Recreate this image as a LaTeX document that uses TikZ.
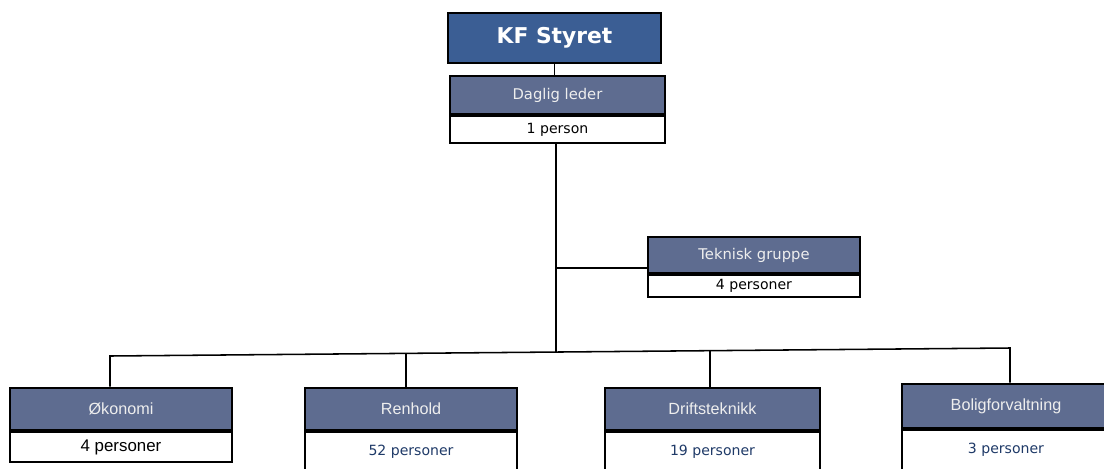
\documentclass[tikz,border=0pt]{standalone}
\usepackage{fontspec}
\setmainfont{Liberation Sans}
\newfontfamily\tahoma{DejaVu Sans}
\usetikzlibrary{positioning}
\definecolor{boardblue}{HTML}{3B5E94}
\definecolor{unitgrey}{HTML}{5E6C90}
\definecolor{countblue}{HTML}{1F3A68}
\definecolor{labelgrey}{HTML}{EEEEEE}

\begin{document}
\begin{tikzpicture}[x=0.025cm, y=-0.025cm,
    line width=1.1pt,
    board/.style={rectangle, draw, line width=2pt, fill=boardblue, text=white,
      font=\tahoma\bfseries\fontsize{15.5}{18}\selectfont, minimum height=1.25cm},
    unit/.style={rectangle, draw, line width=1.8pt, fill=unitgrey, text=labelgrey,
      inner sep=0pt, font=\fontsize{11.5}{13}\selectfont},
    leader/.style={unit, font=\tahoma\fontsize{10.5}{12}\selectfont},
    count/.style={rectangle, draw, line width=1pt, fill=white, inner sep=0pt,
      anchor=north, font=\fontsize{12}{14}\selectfont},
    tcount/.style={count, font=\tahoma\fontsize{10}{12}\selectfont},
    bcount/.style={tcount, text=countblue}
    ]
\useasboundingbox (0,0) rectangle (1104,468);
\node[board, minimum width=5.325cm] (KF) at (554.5,38) {KF Styret};
\node[leader, minimum width=5.375cm, minimum height=0.95cm] (DL) at (557.5,95) {Daglig leder};
\node[tcount, minimum width=5.375cm, minimum height=0.675cm] (DLn) at (DL.south) {1 person};
\node[leader, minimum width=5.3cm, minimum height=0.9cm] (TG) at (754,255) {Teknisk gruppe};
\node[tcount, minimum width=5.3cm, minimum height=0.55cm] (TGn) at (TG.south) {4 personer};
\node[unit, minimum width=5.55cm, minimum height=1.05cm] (OK) at (121,409) {Økonomi};
\node[count, minimum width=5.55cm, minimum height=0.75cm] (OKn) at (OK.south) {4 personer};
\node[unit, minimum width=5.3cm, minimum height=1.05cm] (RH) at (411,409) {Renhold};
\node[bcount, minimum width=5.3cm, minimum height=1cm] (RHn) at (RH.south) {52 personer};
\node[unit, minimum width=5.375cm, minimum height=1.05cm] (DT) at (712.5,409) {Driftsteknikk};
\node[bcount, minimum width=5.375cm, minimum height=1cm] (DTn) at (DT.south) {19 personer};
\node[unit, minimum width=5.2cm, minimum height=1.1cm] (BF) at (1006,406) {Boligforvaltning};
\node[bcount, minimum width=5.2cm, minimum height=1cm] (BFn) at (BF.south) {3 personer};
% lines
\coordinate (tj) at (556,268);
\coordinate (hub) at (556,352);
\coordinate (bL) at (110,356);
\coordinate (bR) at (1010,348);
\coordinate (dRH) at (406,353);
\coordinate (dDT) at (710,351);
\draw (KF.south) -- (KF.south |- DL.north);
\draw (DLn.south -| hub) -- (hub);
\draw (tj) -- (TG.west |- tj);
\draw (bL |- OK.north) -- (bL) -- (bR) -- (bR |- BF.north);
\draw (dRH) -- (dRH |- RH.north);
\draw (dDT) -- (dDT |- DT.north);
\end{tikzpicture}
\end{document}
